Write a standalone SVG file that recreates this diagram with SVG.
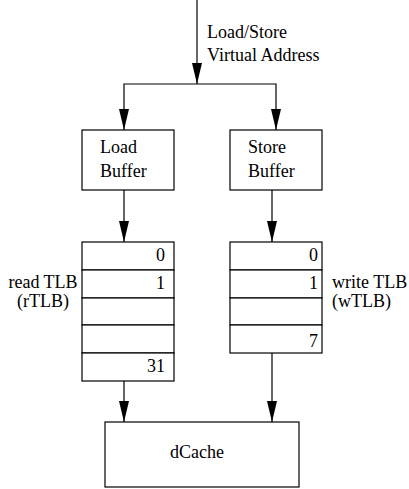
<svg xmlns="http://www.w3.org/2000/svg" width="409" height="489" viewBox="0 0 409 489">
  <style>
    .box { fill: #fff; stroke: #000; stroke-width: 1.2; }
    .wire { fill: none; stroke: #000; stroke-width: 1.2; marker-end: url(#arrow); }
    text { font-family: "Liberation Serif", "Times New Roman", serif; font-size: 18px; fill: #000; }
    .num { text-anchor: end; }
  </style>
  <defs>
    <!-- filled arrowhead, tip at the end of the line -->
    <marker id="arrow" markerUnits="userSpaceOnUse" markerWidth="22" markerHeight="11" viewBox="0 0 22 11" refX="21" refY="5.5" orient="auto">
      <path d="M0,0.5 L21,5.5 L0,10.5 Z" fill="#000"/>
    </marker>
  </defs>

  <g id="connectors">
    <line class="wire" x1="197" y1="0" x2="197" y2="84"/>
    <path class="wire" d="M197,84 L124,84 L124,130"/>
    <path class="wire" d="M197,84 L276,84 L276,130"/>
    <line class="wire" x1="124" y1="190" x2="124" y2="242"/>
    <line class="wire" x1="272" y1="190" x2="272" y2="242"/>
    <line class="wire" x1="124" y1="381" x2="124" y2="422"/>
    <line class="wire" x1="272" y1="353" x2="272" y2="422"/>
  </g>

  <g id="address-label">
    <text x="207" y="38">Load/Store</text>
    <text x="207" y="61">Virtual Address</text>
  </g>

  <g id="load-buffer">
    <rect class="box" x="82" y="130" width="92" height="60"/>
    <text x="100" y="153">Load</text>
    <text x="100" y="177">Buffer</text>
  </g>

  <g id="store-buffer">
    <rect class="box" x="230" y="130" width="92" height="60"/>
    <text x="248" y="153">Store</text>
    <text x="248" y="177">Buffer</text>
  </g>

  <g id="rtlb">
    <rect class="box" x="82" y="242" width="92" height="28"/>
    <rect class="box" x="82" y="270" width="92" height="28"/>
    <rect class="box" x="82" y="298" width="92" height="27"/>
    <rect class="box" x="82" y="325" width="92" height="28"/>
    <rect class="box" x="82" y="353" width="92" height="28"/>
    <text class="num" x="165" y="261">0</text>
    <text class="num" x="165" y="289">1</text>
    <text class="num" x="165" y="372">31</text>
    <text x="43" y="288" text-anchor="middle">read TLB</text>
    <text x="43" y="307" text-anchor="middle">(rTLB)</text>
  </g>

  <g id="wtlb">
    <rect class="box" x="230" y="242" width="92" height="28"/>
    <rect class="box" x="230" y="270" width="92" height="28"/>
    <rect class="box" x="230" y="298" width="92" height="27"/>
    <rect class="box" x="230" y="325" width="92" height="28"/>
    <text class="num" x="318" y="261">0</text>
    <text class="num" x="318" y="289">1</text>
    <text class="num" x="318" y="347">7</text>
    <text x="332" y="288">write TLB</text>
    <text x="332" y="307">(wTLB)</text>
  </g>

  <g id="dcache">
    <rect class="box" x="105" y="422" width="194" height="65"/>
    <text x="197" y="458" text-anchor="middle">dCache</text>
  </g>
</svg>
